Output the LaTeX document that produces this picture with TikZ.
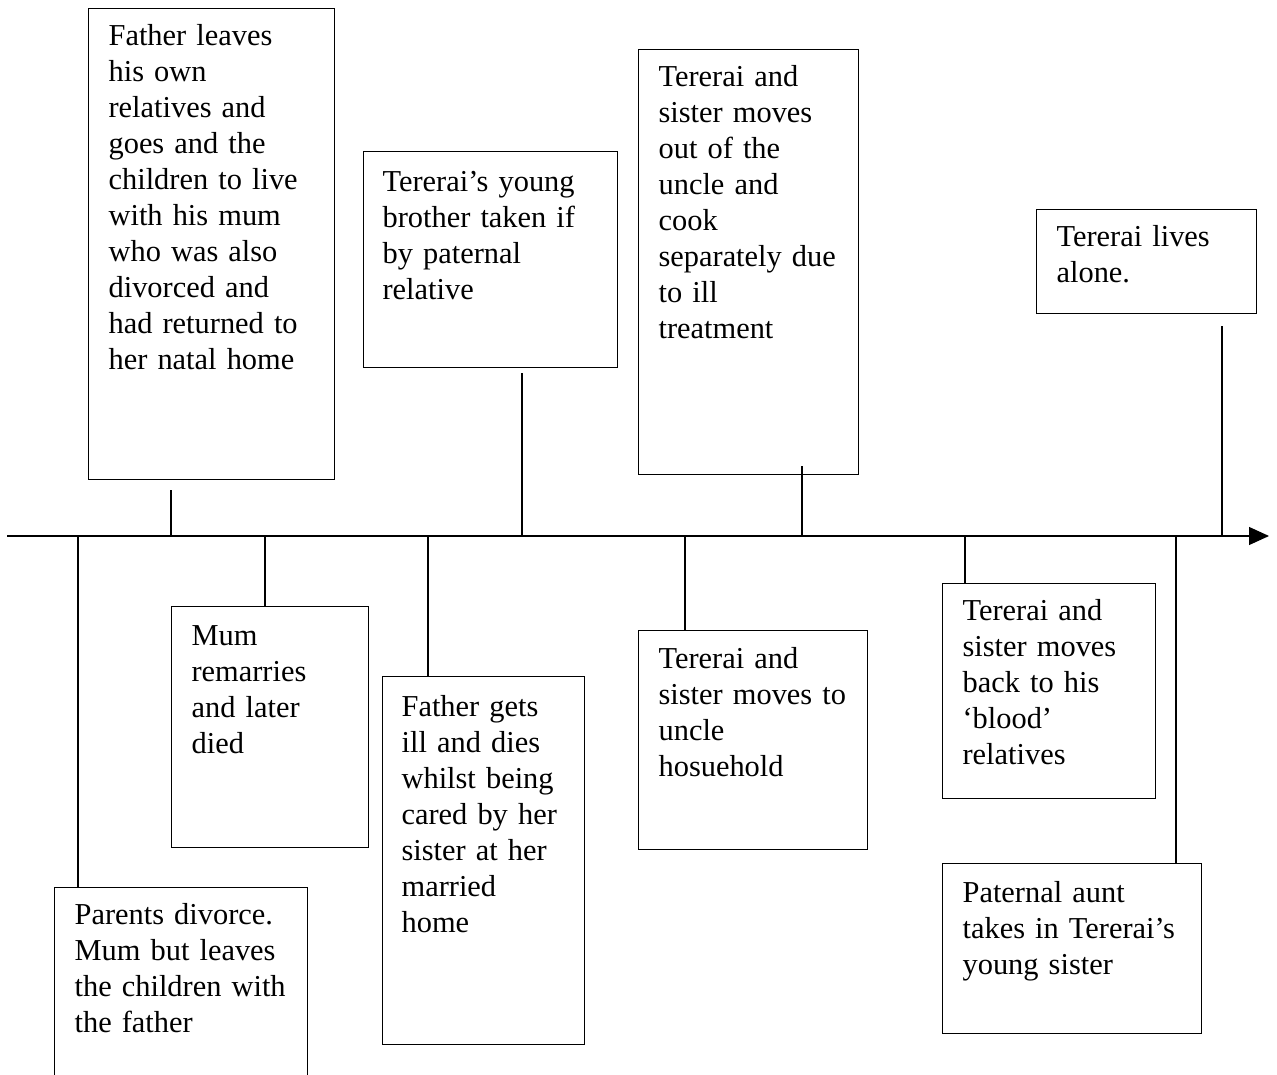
\documentclass[tikz,border=0pt]{standalone}
\usepackage{fontspec}
\setmainfont{Liberation Serif}
\usetikzlibrary{arrows.meta,calc}
\begin{document}
\begin{tikzpicture}[x=1pt,y=-1pt,line width=1.2pt,
  evbox/.style 2 args={draw, inner sep=0pt, anchor=north west,
    minimum width=#1pt, minimum height=#2pt},
  evtext/.style={anchor=base west, inner sep=0pt, align=left,
    text width=260pt, font=\fontsize{30.4}{36}\selectfont}]
\useasboundingbox (0,0) rectangle (1277,1075);
\clip (0,0) rectangle (1277,1075);

% time axis
\coordinate (a0) at (7,536);
\coordinate (a1) at (1269,536);
\draw[-{Triangle[length=20pt,width=18pt]}] (a0) -- (a1);

% events above the axis
\node[evbox={246}{471}] (b1) at (88,8) {};
\node[evtext] (l1) at ($(b1.north west)+(20,38)$)
  {Father leaves\\his own\\relatives and\\goes and the\\children to live\\with his mum\\who was also\\divorced and\\had returned to\\her natal home};

\node[evbox={254}{216}] (b2) at (363,151) {};
\node[evtext] (l2) at ($(b2.north west)+(19,41)$)
  {Tererai’s young\\brother taken if\\by paternal\\relative};

\node[evbox={220}{425}] (b3) at (638,49) {};
\node[evtext] (l3) at ($(b3.north west)+(20,38)$)
  {Tererai and\\sister moves\\out of the\\uncle and\\cook\\separately due\\to ill\\treatment};

\node[evbox={220}{104}] (b4) at (1036,209) {};
\node[evtext] (l4) at ($(b4.north west)+(20,38)$)
  {Tererai lives\\alone.};

% events below the axis
\node[evbox={253}{260}] (b5) at (54,887) {};
\node[evtext] (l5) at ($(b5.north west)+(20,37)$)
  {Parents divorce.\\Mum but leaves\\the children with\\the father};

\node[evbox={197}{241}] (b6) at (171,606) {};
\node[evtext] (l6) at ($(b6.north west)+(20,39)$)
  {Mum\\remarries\\and later\\died};

\node[evbox={202}{368}] (b7) at (382,676) {};
\node[evtext] (l7) at ($(b7.north west)+(19,40)$)
  {Father gets\\ill and dies\\whilst being\\cared by her\\sister at her\\married\\home};

\node[evbox={229}{219}] (b8) at (638,630) {};
\node[evtext] (l8) at ($(b8.north west)+(20,38)$)
  {Tererai and\\sister moves to\\uncle\\hosuehold};

\node[evbox={213}{215}] (b9) at (942,583) {};
\node[evtext] (l9) at ($(b9.north west)+(20,37)$)
  {Tererai and\\sister moves\\back to his\\‘blood’\\relatives};

\node[evbox={259}{170}] (b10) at (942,863) {};
\node[evtext] (l10) at ($(b10.north west)+(20,39)$)
  {Paternal aunt\\takes in Tererai’s\\young sister};

% points on the axis
\coordinate (t1) at (171,536);
\coordinate (t2) at (522,536);
\coordinate (t3) at (802,536);
\coordinate (t4) at (1222,536);
\coordinate (t5) at (78,536);
\coordinate (t6) at (265,536);
\coordinate (t7) at (428,536);
\coordinate (t8) at (685,536);
\coordinate (t9) at (965,536);
\coordinate (t10) at (1176,536);

% connectors
\draw[shorten >=10pt] (t1) -- (t1 |- b1.south);
\draw[shorten >=5pt] (t2) -- (t2 |- b2.south);
\draw[shorten >=-9pt] (t3) -- (t3 |- b3.south);
\draw[shorten >=12pt] (t4) -- (t4 |- b4.south);
\draw (t5) -- (t5 |- b5.north);
\draw (t6) -- (t6 |- b6.north);
\draw (t7) -- (t7 |- b7.north);
\draw (t8) -- (t8 |- b8.north);
\draw (t9) -- (t9 |- b9.north);
\draw (t10) -- (t10 |- b10.north);
\end{tikzpicture}
\end{document}
